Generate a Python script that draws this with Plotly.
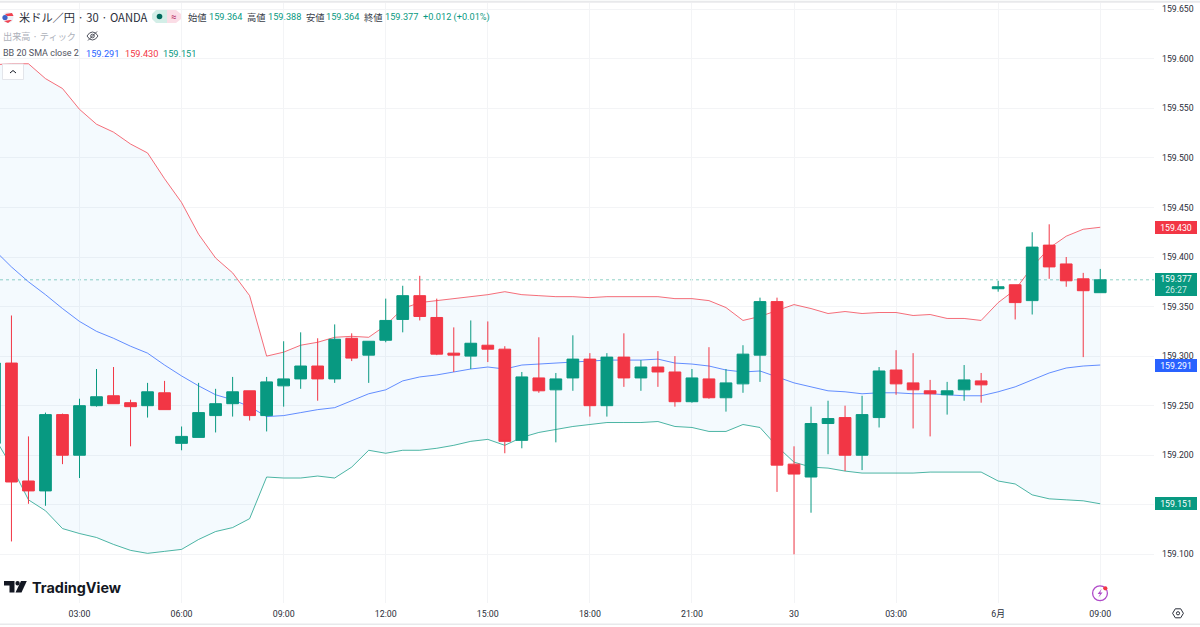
import plotly.graph_objects as go

# USD/JPY 30-minute candles, 01:00 on the 29th through 09:00 on 1 June (OANDA)
candle_index = list(range(-1, 65))
opens = [159.212, 159.293, 159.174, 159.164, 159.241, 159.200, 159.250, 159.260, 159.253, 159.250, 159.263,
         159.212, 159.218, 159.240, 159.252, 159.265, 159.240, 159.270, 159.277, 159.290, 159.277, 159.318,
         159.301, 159.316, 159.337, 159.361, 159.339, 159.303, 159.300, 159.311, 159.307, 159.215, 159.278,
         159.266, 159.278, 159.297, 159.250, 159.299, 159.278, 159.289, 159.284, 159.254, 159.277, 159.258,
         159.272, 159.301, 159.355, 159.191, 159.178, 159.232, 159.238, 159.200, 159.238, 159.286, 159.273,
         159.265, 159.261, 159.266, 159.275, 159.368, 159.372, 159.356, 159.412, 159.393, 159.378, 159.364]
highs = [159.300, 159.341, 159.219, 159.243, 159.242, 159.257, 159.287, 159.289, 159.256, 159.273, 159.275,
         159.229, 159.273, 159.267, 159.279, 159.265, 159.279, 159.315, 159.324, 159.318, 159.332, 159.323,
         159.315, 159.358, 159.371, 159.381, 159.358, 159.329, 159.336, 159.335, 159.310, 159.284, 159.319,
         159.283, 159.321, 159.303, 159.303, 159.323, 159.296, 159.305, 159.300, 159.287, 159.309, 159.287,
         159.311, 159.359, 159.359, 159.209, 159.249, 159.255, 159.250, 159.260, 159.289, 159.306, 159.303,
         159.276, 159.274, 159.291, 159.283, 159.376, 159.372, 159.425, 159.433, 159.400, 159.384, 159.388]
lows = [159.200, 159.113, 159.151, 159.149, 159.191, 159.177, 159.249, 159.252, 159.209, 159.238, 159.246,
        159.205, 159.218, 159.223, 159.239, 159.235, 159.224, 159.249, 159.267, 159.255, 159.273, 159.295,
        159.273, 159.314, 159.324, 159.336, 159.301, 159.284, 159.287, 159.294, 159.202, 159.207, 159.263,
        159.213, 159.265, 159.239, 159.239, 159.269, 159.265, 159.269, 159.249, 159.253, 159.257, 159.244,
        159.263, 159.274, 159.163, 159.100, 159.142, 159.201, 159.184, 159.185, 159.228, 159.261, 159.227,
        159.219, 159.241, 159.255, 159.253, 159.365, 159.337, 159.342, 159.378, 159.370, 159.299, 159.364]
closes = [159.293, 159.173, 159.164, 159.241, 159.200, 159.250, 159.259, 159.252, 159.249, 159.264, 159.246,
          159.219, 159.243, 159.252, 159.264, 159.240, 159.274, 159.277, 159.290, 159.277, 159.317, 159.298,
          159.315, 159.336, 159.361, 159.340, 159.302, 159.301, 159.313, 159.307, 159.214, 159.279, 159.265,
          159.277, 159.297, 159.250, 159.299, 159.278, 159.289, 159.284, 159.254, 159.278, 159.258, 159.273,
          159.302, 159.355, 159.190, 159.181, 159.232, 159.237, 159.200, 159.241, 159.285, 159.272, 159.266,
          159.262, 159.265, 159.276, 159.271, 159.370, 159.354, 159.410, 159.390, 159.376, 159.366, 159.377]

# Bollinger Bands (20, SMA, close, 2)
bb_upper = [159.594, 159.595, 159.595, 159.580, 159.570, 159.549, 159.534, 159.526, 159.514, 159.505, 159.479,
            159.455, 159.423, 159.399, 159.384, 159.361, 159.300, 159.304, 159.311, 159.314, 159.319, 159.320,
            159.319, 159.331, 159.348, 159.354, 159.356, 159.358, 159.360, 159.362, 159.365, 159.362, 159.361,
            159.360, 159.360, 159.359, 159.360, 159.360, 159.360, 159.360, 159.358, 159.358, 159.356, 159.349,
            159.336, 159.340, 159.346, 159.352, 159.348, 159.343, 159.345, 159.343, 159.344, 159.344, 159.341,
            159.342, 159.338, 159.338, 159.336, 159.354, 159.367, 159.390, 159.409, 159.421, 159.428, 159.430]
bb_basis = [159.407, 159.390, 159.375, 159.362, 159.348, 159.335, 159.325, 159.318, 159.310, 159.303, 159.291,
            159.280, 159.270, 159.261, 159.256, 159.249, 159.239, 159.240, 159.243, 159.246, 159.248, 159.255,
            159.262, 159.266, 159.275, 159.279, 159.281, 159.284, 159.287, 159.289, 159.287, 159.291, 159.292,
            159.293, 159.294, 159.295, 159.296, 159.296, 159.296, 159.297, 159.293, 159.292, 159.290, 159.286,
            159.284, 159.285, 159.279, 159.273, 159.269, 159.265, 159.264, 159.262, 159.263, 159.263, 159.262,
            159.262, 159.261, 159.260, 159.260, 159.264, 159.269, 159.276, 159.283, 159.288, 159.290, 159.291]
bb_lower = [159.218, 159.189, 159.155, 159.144, 159.126, 159.121, 159.117, 159.110, 159.104, 159.101, 159.103,
            159.105, 159.115, 159.123, 159.127, 159.136, 159.178, 159.177, 159.177, 159.179, 159.177, 159.188,
            159.205, 159.202, 159.205, 159.205, 159.207, 159.210, 159.214, 159.216, 159.210, 159.218, 159.223,
            159.226, 159.229, 159.231, 159.233, 159.233, 159.233, 159.234, 159.229, 159.228, 159.224, 159.224,
            159.231, 159.228, 159.209, 159.193, 159.188, 159.187, 159.184, 159.182, 159.182, 159.182, 159.182,
            159.183, 159.183, 159.183, 159.183, 159.174, 159.171, 159.160, 159.156, 159.155, 159.154, 159.151]

tick_index = [4, 10, 16, 22, 28, 34, 40, 46, 52, 58, 64]
tick_labels = ["03:00", "06:00", "09:00", "12:00", "15:00", "18:00", "21:00", "30", "03:00", "6月", "09:00"]
price_ticks = [159.10, 159.15, 159.20, 159.25, 159.30, 159.35, 159.40, 159.45, 159.50, 159.55, 159.60, 159.65]
# The 159.150 label stays blank: the lower band's tag occupies that spot on the scale
price_tick_labels = ["159.100", "", "159.200", "159.250", "159.300", "159.350", "159.400", "159.450",
                     "159.500", "159.550", "159.600", "159.650"]
countdown = "26:27"
change_text = "+0.012 (+0.01%)"

UP = "#089981"
DOWN = "#F23645"
BLUE = "#2962FF"
GRID = "#F3F4F6"
TEXT = "#131722"
LATIN = "Roboto"
CJK = "Noto Sans CJK JP"

W, H = 1200, 627
PLOT_W, PLOT_H, TOP = 1154, 600, 3
X_RANGE = [-0.673, 67.16]
Y_RANGE = [159.0509, 159.6563]


def px(x):
    return x / PLOT_W


def py(y):
    return (TOP + PLOT_H - y) / PLOT_H


fig = go.Figure()

# Bands sit on the base axes so the candles, on the overlay axes, stay on top
fig.add_trace(go.Scatter(x=candle_index, y=bb_upper, mode="lines",
                         line=dict(color="rgba(242,54,69,0.72)", width=1)))
fig.add_trace(go.Scatter(x=candle_index, y=bb_lower, mode="lines",
                         line=dict(color="rgba(8,153,129,0.72)", width=1),
                         fill="tonexty", fillcolor="rgba(33,150,243,0.05)"))
fig.add_trace(go.Scatter(x=candle_index, y=bb_basis, mode="lines",
                         line=dict(color="rgba(41,98,255,0.72)", width=1)))
fig.add_trace(go.Candlestick(
    x=candle_index, open=opens, high=highs, low=lows, close=closes,
    xaxis="x2", yaxis="y2", whiskerwidth=0,
    increasing=dict(line=dict(color=UP, width=1), fillcolor=UP),
    decreasing=dict(line=dict(color=DOWN, width=1), fillcolor=DOWN),
))

annotations = []
shapes = []


def label(x, y, text, color=TEXT, size=9, family=LATIN, anchor="left"):
    annotations.append(dict(
        xref="paper", yref="paper", x=px(x), y=py(y), text=text, showarrow=False,
        xanchor=anchor, yanchor="middle", borderpad=0, borderwidth=0,
        font=dict(color=color, size=size, family=family),
    ))


def circle(cx, cy, r, fill="rgba(0,0,0,0)", line=None, width=1):
    shapes.append(dict(
        type="circle", xref="paper", yref="paper",
        x0=px(cx - r), x1=px(cx + r), y0=py(cy + r), y1=py(cy - r),
        fillcolor=fill, line=dict(color=line or fill, width=width if line else 0),
    ))


def rect(x0, y0, x1, y1, fill, line=None):
    shapes.append(dict(
        type="rect", xref="paper", yref="paper",
        x0=px(x0), x1=px(x1), y0=py(y1), y1=py(y0),
        fillcolor=fill, line=dict(color=line or fill, width=1 if line else 0),
    ))


def path(points, fill="rgba(0,0,0,0)", line=None, width=1, close=True):
    d = "M " + " L ".join(f"{px(x):.5f} {py(y):.5f}" for x, y in points) + (" Z" if close else "")
    shapes.append(dict(
        type="path", xref="paper", yref="paper", path=d, fillcolor=fill,
        line=dict(color=line or fill, width=width if line else 0),
    ))


def price_tag(value, color, extra=None):
    """Coloured tag in the price scale, centred on its value."""
    text = f"{value:.3f}"
    height = 13
    yshift = 0
    if extra:
        text += f"<br><span style='color:rgba(255,255,255,0.8)'>{extra}</span>"
        height = 23
        yshift = -4.5
    annotations.append(dict(
        xref="paper", yref="y", x=1.0008, y=value, text=text, showarrow=False,
        xanchor="left", yanchor="middle", yshift=yshift, width=42, height=height, align="center",
        bgcolor=color, borderpad=0, borderwidth=0,
        font=dict(color="white", size=8.7, family=LATIN),
    ))


# Last-price marker line
shapes.append(dict(type="line", xref="paper", yref="y", x0=0, x1=1, y0=closes[-1], y1=closes[-1], layer="below",
                   line=dict(color="rgba(8,153,129,0.45)", width=1, dash="dot")))

# Frame rules of the chart window
rect(0, 0.8, W, 2.8, "#E8E9EB")
rect(0, 623.5, W, 625, "#E8E9EB")

# Instrument icon
circle(8, 17.5, 5.5, "#EEF0F6")
path([(5, 14), (12, 13), (13.5, 16), (7, 16)], "#F0414F")
path([(4, 21), (10, 20), (12, 20), (8, 23)], "#F0414F")
circle(5, 17.5, 2.6, "#3E63C8")

# Header row 1
label(19, 17, "米ドル／円 · 30 · OANDA", "#2A2E39", 11.2, CJK)
path([(156, 10), (167, 10), (167, 23), (156, 23), (152, 19), (152, 14)], "#D3EEE7")
path([(167, 10), (176, 10), (181, 14), (181, 19), (176, 23), (167, 23)], "#FBDDE6")
circle(159.5, 16.5, 2.8, "#00695C")
label(173, 16.5, "≈", "#B5235F", 9.5, LATIN, "center")

header_values = [
    (188, "始値", 208.5, opens[-1]),
    (247, "高値", 267.5, highs[-1]),
    (305.5, "安値", 326, lows[-1]),
    (364, "終値", 384.5, closes[-1]),
]
for name_x, name, value_x, value in header_values:
    label(name_x, 17, name, "#3A3E4A", 9.3, CJK)
    label(value_x, 17, f"{value:.3f}", UP, 9.2)
label(423, 17, change_text, UP, 9.2)

# Header row 2
label(2.5, 35.5, "出来高 · ティック", "#ADB1BA", 9.2, CJK)
path([(87, 36), (89.5, 33), (92.5, 32), (95.5, 33), (98, 36), (95.5, 39), (92.5, 40), (89.5, 39)],
     line="#50535E", width=1)
circle(92.5, 36, 1.8, line="#50535E")
path([(88, 40.5), (97, 31.5)], line="#50535E", width=1, close=False)

# Header row 3: indicator readout
label(2.5, 53.5, "BB 20 SMA close 2", "#50535E", 9)
label(86, 53.5, f"{bb_basis[-1]:.3f}", BLUE, 9.2)
label(124.5, 53.5, f"{bb_upper[-1]:.3f}", DOWN, 9.2)
label(163, 53.5, f"{bb_lower[-1]:.3f}", UP, 9.2)

# Collapse button
rect(2.5, 64, 23.5, 79.5, "#FFFFFF", "#E3E5EA")
path([(10, 73), (13, 70.5), (16, 73)], line="#131722", width=1, close=False)

# Watermark
path([(4, 581), (14.5, 581), (14.5, 592.5), (9.5, 592.5), (9.5, 585.5), (4, 585.5)], "#131722")
circle(17.6, 583.2, 2.2, "#131722")
path([(21, 581), (26.8, 581), (21.5, 592.5), (15.5, 592.5)], "#131722")
label(32, 587.5, "<b>TradingView</b>", "#131722", 14.4, "Inter")

# Lightning badge
circle(1100, 593.3, 7.4, line="#B04AC9", width=1.3)
path([(1101.8, 588.8), (1097.6, 594), (1100, 594), (1098.4, 597.6), (1102.6, 592.4), (1100.2, 592.4)], "#B04AC9")
circle(1105.3, 588.3, 2.1, "#F23645")

# Settings button
path([(1172.6, 613.3), (1175.3, 608.8), (1180.7, 608.8), (1183.4, 613.3), (1180.7, 617.8), (1175.3, 617.8)],
     line="#2A2E39", width=1)
circle(1178, 613.3, 1.6, line="#2A2E39")

# Price scale tags
price_tag(bb_upper[-1], DOWN)
price_tag(closes[-1], UP, countdown)
price_tag(bb_basis[-1], BLUE)
price_tag(bb_lower[-1], UP)

fig.update_layout(
    width=W, height=H, autosize=False, showlegend=False,
    margin=dict(l=0, r=W - PLOT_W, t=TOP, b=H - TOP - PLOT_H, pad=0),
    paper_bgcolor="white", plot_bgcolor="white",
    boxgap=0.15, boxgroupgap=0.19,
    annotations=annotations, shapes=shapes,
    xaxis=dict(
        range=X_RANGE, tickmode="array", tickvals=tick_index, ticktext=tick_labels,
        showgrid=True, gridcolor=GRID, gridwidth=1, zeroline=False, showline=False, ticks="",
        tickfont=dict(family=f"{LATIN}, {CJK}", size=8.8, color="#2A2E39"), ticklabelstandoff=4,
        rangeslider=dict(visible=False),
    ),
    yaxis=dict(
        range=Y_RANGE, side="right", tickmode="array", tickvals=price_ticks, ticktext=price_tick_labels,
        showgrid=True, gridcolor=GRID, gridwidth=1, zeroline=False, showline=False, ticks="",
        tickfont=dict(family=LATIN, size=8.7, color="#2A2E39"), ticklabelstandoff=7,
    ),
    xaxis2=dict(range=X_RANGE, overlaying="x", visible=False, rangeslider=dict(visible=False)),
    yaxis2=dict(range=Y_RANGE, overlaying="y", visible=False, side="right"),
)

fig.write_html("out.html")
